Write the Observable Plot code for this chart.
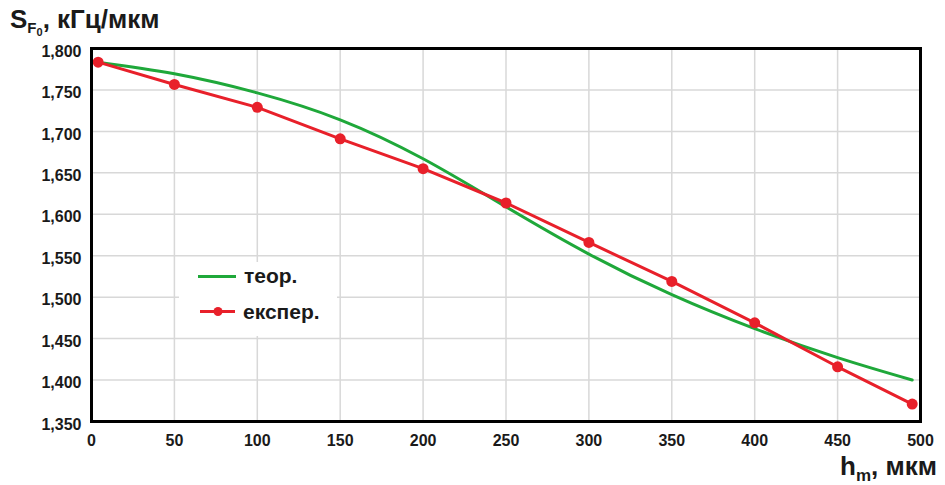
<!DOCTYPE html>
<html><head><meta charset="utf-8">
<script src="https://cdn.jsdelivr.net/npm/d3@7"></script>
<script src="https://cdn.jsdelivr.net/npm/@observablehq/plot@0.6"></script>
<style>body{margin:0;background:#fff;} svg{display:block}</style>
</head><body><div id="chart"></div>
<script>
// h_m, мкм (first/last read as drawn, just inside the frame)
const hm = [4, 50, 100, 150, 200, 250, 300, 350, 400, 450, 495];
// S_F0, кГц/мкм
const theor = [1783.5, 1769.5, 1746.5, 1714, 1667, 1609, 1552, 1503, 1462, 1427, 1400];
const exper = [1783.5, 1756.6, 1729, 1691, 1655, 1613.6, 1566, 1519, 1469, 1416, 1371];
const seriesNames = ["теор.", "експер."];
const xTicks = [0, 50, 100, 150, 200, 250, 300, 350, 400, 450, 500];
const yTicks = [1350, 1400, 1450, 1500, 1550, 1600, 1650, 1700, 1750, 1800];

const green = "#1fa83a", red = "#e8202a";
const theorData = hm.map((x, i) => ({x, y: theor[i]}));
const experData = hm.map((x, i) => ({x, y: exper[i]}));
const font = "'Liberation Sans', Arial, sans-serif";

const chart = Plot.plot({
  width: 945, height: 485,
  marginLeft: 91, marginRight: 25, marginTop: 48, marginBottom: 64,
  x: {domain: [0, 500]},
  y: {domain: [1350, 1800]},
  style: {fontFamily: font, fontWeight: "bold", fontSize: "16px", color: "#1a1a1a", background: "#fff"},
  marks: [
    Plot.gridX(xTicks, {stroke: "#d8d8d8", strokeOpacity: 1, strokeWidth: 1.5}),
    Plot.gridY(yTicks, {stroke: "#d8d8d8", strokeOpacity: 1, strokeWidth: 1.5}),
    Plot.axisX(xTicks, {tickSize: 0, tickPadding: 13, tickFormat: d => String(d), label: null}),
    Plot.axisY(yTicks, {tickSize: 0, tickPadding: 10, tickFormat: d3.format(","), label: null, dy: 3}),
    Plot.line(theorData, {x: "x", y: "y", curve: "natural", stroke: green, strokeWidth: 3}),
    Plot.line(experData, {x: "x", y: "y", stroke: red, strokeWidth: 3}),
    Plot.dot(experData, {x: "x", y: "y", r: 5.5, fill: red}),
    Plot.frame({stroke: "#000", strokeWidth: 3})
  ]
});
document.getElementById("chart").appendChild(chart);

const svg = d3.select(chart);
// legend
const lg = svg.append("g").attr("font-family", font).attr("font-weight", "bold").attr("font-size", 21).attr("fill", "#1a1a1a").attr("text-anchor", "start");
lg.append("rect").attr("x", 179).attr("y", 262).attr("width", 158).attr("height", 74).attr("fill", "#fff");
lg.append("line").attr("x1", 198).attr("x2", 236).attr("y1", 276.5).attr("y2", 276.5).attr("stroke", green).attr("stroke-width", 3);
lg.append("text").attr("x", 244).attr("y", 283).text(seriesNames[0]);
lg.append("line").attr("x1", 200).attr("x2", 235).attr("y1", 311.5).attr("y2", 311.5).attr("stroke", red).attr("stroke-width", 3);
lg.append("circle").attr("cx", 218).attr("cy", 311.5).attr("r", 4.5).attr("fill", red);
lg.append("text").attr("x", 243).attr("y", 319).text(seriesNames[1]);

// y title
const yt = svg.append("text").attr("x", 10).attr("y", 28).attr("text-anchor", "start").attr("font-family", font).attr("font-weight", "bold").attr("font-size", 26).attr("fill", "#1a1a1a");
yt.append("tspan").text("S");
yt.append("tspan").attr("font-size", 15).attr("dy", 5).text("F");
yt.append("tspan").attr("font-size", 11).attr("dy", 3).text("0");
yt.append("tspan").attr("dy", -8).text(", кГц/мкм");

// x title
const xt = svg.append("text").attr("x", 840).attr("y", 475).attr("text-anchor", "start").attr("font-family", font).attr("font-weight", "bold").attr("font-size", 26).attr("fill", "#1a1a1a");
xt.append("tspan").text("h");
xt.append("tspan").attr("font-size", 17).attr("dy", 6).text("m");
xt.append("tspan").attr("dy", -6).text(", мкм");
</script>
</body></html>
